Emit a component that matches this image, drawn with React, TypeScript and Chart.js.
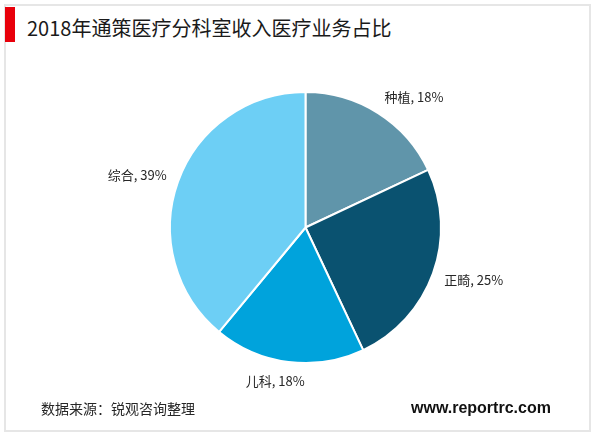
import React, { useEffect, useRef } from "react";
import { Chart, registerables } from "chart.js";

Chart.register(...registerables);

const TITLE = "2018年通策医疗分科室收入医疗业务占比";
const SOURCE = "数据来源：锐观咨询整理";
const SITE = "www.reportrc.com";
const categories = ["种植", "正畸", "儿科", "综合"];
const shares = [18, 25, 18, 39];
const colors = ["#6095aa", "#0a5270", "#00a3dc", "#6dcff5"];

const FONT = '"Microsoft YaHei", "Noto Sans CJK SC", sans-serif';

const labelPlugin = {
  id: "outsideLabels",
  afterDatasetsDraw(chart: any) {
    const ctx = chart.ctx;
    const meta = chart.getDatasetMeta(0);
    ctx.save();
    ctx.font = `13px ${FONT}`;
    ctx.fillStyle = "#262626";
    ctx.textBaseline = "middle";
    ctx.textAlign = "left";
    meta.data.forEach((arc: any, i: number) => {
      const { x, y, startAngle, endAngle, outerRadius } = arc.getProps(
        ["x", "y", "startAngle", "endAngle", "outerRadius"],
        true
      );
      const mid = (startAngle + endAngle) / 2;
      const ux = Math.cos(mid);
      const uy = Math.sin(mid);
      const r = outerRadius + 12;
      const ax = x + ux * r;
      const ay = y + uy * r;
      const text = `${categories[i]}, ${shares[i]}%`;
      const w = ctx.measureText(text).width;
      const h = 15;
      const sx = Math.max(-1, Math.min(1, ux * 3.2));
      const left = ax + ((sx - 1) / 2) * w;
      const top = ay + ((uy - 1) / 2) * h;
      ctx.fillText(text, left, top + h / 2);
    });
    ctx.restore();
  },
};

export default function App() {
  const ref = useRef<HTMLCanvasElement | null>(null);

  useEffect(() => {
    document.body.style.margin = "0";
    const chart = new Chart(ref.current as HTMLCanvasElement, {
      type: "pie",
      data: {
        labels: categories,
        datasets: [
          {
            data: shares,
            backgroundColor: colors,
            borderColor: "#ffffff",
            borderWidth: 2,
          },
        ],
      },
      options: {
        responsive: false,
        animation: false,
        layout: { padding: { left: 169, top: 91, right: 158, bottom: 69 } },
        plugins: {
          legend: { display: false },
          tooltip: { enabled: false },
          title: { display: false },
        },
      },
      plugins: [labelPlugin],
    });
    return () => chart.destroy();
  }, []);

  return (
    <div
      style={{
        position: "absolute",
        left: 0,
        top: 0,
        width: 600,
        height: 433,
        background: "#ffffff",
        overflow: "hidden",
        fontFamily: FONT,
      }}
    >
      <div
        style={{
          position: "absolute",
          left: 4,
          top: 4,
          width: 583,
          height: 424,
          border: "2px solid #e6e6e6",
        }}
      />
      <div
        style={{
          position: "absolute",
          left: 5,
          top: 7,
          width: 10,
          height: 35,
          background: "#e8000b",
        }}
      />
      <div
        style={{
          position: "absolute",
          left: 27,
          top: 14,
          fontSize: 20,
          lineHeight: "28px",
          color: "#1a1a1a",
          whiteSpace: "nowrap",
        }}
      >
        {TITLE}
      </div>
      <canvas
        ref={ref}
        width={600}
        height={433}
        style={{ position: "absolute", left: 0, top: 0, width: 600, height: 433 }}
      />
      <div
        style={{
          position: "absolute",
          left: 41,
          top: 398,
          fontSize: 14,
          lineHeight: "20px",
          color: "#262626",
          whiteSpace: "nowrap",
        }}
      >
        {SOURCE}
      </div>
      <div
        style={{
          position: "absolute",
          left: 411,
          top: 397,
          fontSize: 16,
          fontWeight: "bold",
          lineHeight: "22px",
          color: "#111111",
          fontFamily: '"Liberation Sans", Arial, sans-serif',
          whiteSpace: "nowrap",
        }}
      >
        {SITE}
      </div>
    </div>
  );
}
